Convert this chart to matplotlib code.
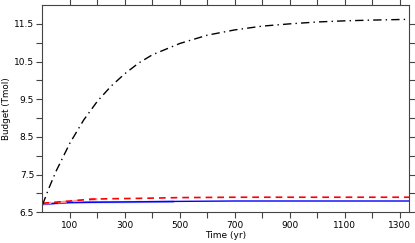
import matplotlib
matplotlib.use("Agg")
import matplotlib.pyplot as plt

t_black = [0, 25, 50, 100, 150, 200, 250, 300, 350, 400, 500, 600, 700, 800, 900, 1000, 1100, 1200, 1335]
b_black = [6.70, 7.17, 7.60, 8.34, 8.95, 9.45, 9.85, 10.18, 10.46, 10.68, 10.98, 11.20, 11.34, 11.44, 11.50, 11.55, 11.58, 11.60, 11.62]

t_red = [0, 50, 100, 180, 250, 350, 500, 700, 1000, 1335]
b_red = [6.74, 6.77, 6.80, 6.85, 6.86, 6.87, 6.89, 6.90, 6.90, 6.90]

t_red_light = [0, 50, 100, 180, 200]
b_red_light = [6.73, 6.76, 6.79, 6.84, 6.85]

t_blue = [0, 50, 100, 230, 350, 500, 700, 1000, 1335]
b_blue = [6.71, 6.74, 6.76, 6.77, 6.78, 6.79, 6.80, 6.80, 6.80]

t_blue_light = [0, 50, 100, 200, 300, 475]
b_blue_light = [6.71, 6.74, 6.76, 6.77, 6.77, 6.78]

xticks = list(range(100, 1301, 100))
xlabels = [str(v) if v % 200 == 100 else "" for v in xticks]
yticks = [6.5 + 0.5 * i for i in range(11)]
ylabels = [f"{v:.1f}" if abs(v * 2 % 2 - 1) < 1e-6 else "" for v in yticks]

fig = plt.figure(figsize=(4.15, 2.43), dpi=100)
ax = fig.add_axes([0.1024, 0.1263, 0.884, 0.8531])

ax.plot(t_blue_light, b_blue_light, color="#8080ff", lw=1.6, alpha=0.8)
ax.plot(t_blue, b_blue, color="#0000ff", lw=1.0)
ax.plot(t_red_light, b_red_light, color="#ff9999", lw=1.6, dashes=(4, 3))
ax.plot(t_red, b_red, color="#ff0000", lw=1.2, dashes=(4, 3))
ax.plot(t_black, b_black, color="black", lw=1.0, dashes=(6, 3, 1, 3))

ax.set_xlim(0, 1335)
ax.set_ylim(6.5, 12.0)
ax.set_xticks(xticks)
ax.set_xticklabels(xlabels)
ax.set_yticks(yticks)
ax.set_yticklabels(ylabels)
ax.tick_params(direction="out", length=4, width=0.8, labelsize=6.5, color="#444444",
               top=True, right=True, pad=2)
for s in ax.spines.values():
    s.set_color("#444444")
    s.set_linewidth(0.8)

ax.set_xlabel("Time (yr)", fontsize=6.5, labelpad=1)
ax.set_ylabel("Budget (Tmol)", fontsize=6.3, labelpad=2.5)

fig.savefig("out.png", dpi=100)
